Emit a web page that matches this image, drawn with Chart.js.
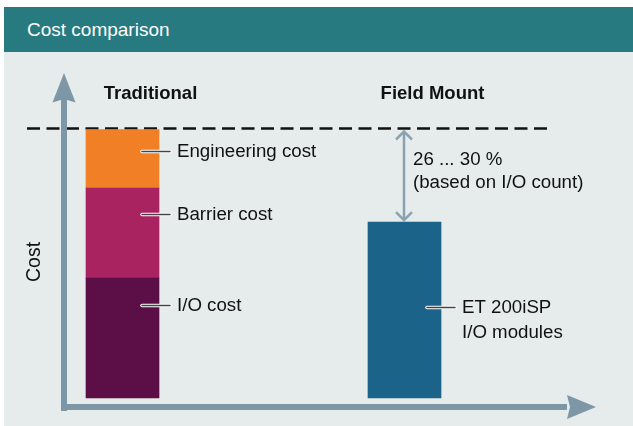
<!DOCTYPE html>
<html>
<head>
<meta charset="utf-8">
<script src="https://cdn.jsdelivr.net/npm/chart.js@4.4.1/dist/chart.umd.min.js"></script>
<style>
  body { margin: 0; background: #fff; }
  #wrap { position: relative; width: 633px; height: 426px; font-family: "Liberation Sans", Arial, sans-serif; }
  #head { position: absolute; left: 4px; top: 7px; width: 629px; height: 45px; background: #277a80; color: #fff;
          font-size: 19px; line-height: 45px; box-sizing: border-box; padding-left: 23px; }
  #body { position: absolute; left: 4px; top: 52px; width: 629px; height: 374px; background: #e6ebeb; }
  canvas { position: absolute; left: 0; top: 0; }
</style>
</head>
<body>
<div id="wrap">
  <div id="head">Cost comparison</div>
  <div id="body"></div>
  <canvas id="chart" width="633" height="426"></canvas>
</div>
<script>
// данные (в % от традиционной стоимости)
const categories = ['Traditional', 'Field Mount'];
const ioCost = [44.7, null];
const barrierCost = [33.5, null];
const engineeringCost = [21.8, null];
const et200isp = [null, 65.5];
const segmentNames = ['I/O cost', 'Barrier cost', 'Engineering cost', 'ET 200iSP\nI/O modules'];
const labelAt = [34.6, 68.5, 92, 33.9]; // где стоит выноска
const savingText = ['26 ... 30 %', '(based on I/O count)'];
const axisTitle = 'Cost';

const FONT = '"Liberation Sans", Arial, sans-serif';
const AXIS_COLOR = '#7e97a6';

const deco = {
  id: 'deco',
  beforeDatasetsDraw(chart) {
    const { ctx, chartArea: a, scales: { y } } = chart;
    const total = ioCost[0] + barrierCost[0] + engineeringCost[0];
    const yTop = y.getPixelForValue(total) - 1;
    const ax = a.left - 58.5;
    const ay = y.getPixelForValue(0) + 9;

    ctx.save();
    // пунктир на уровне традиционной стоимости
    ctx.strokeStyle = '#111';
    ctx.lineWidth = 2.5;
    ctx.setLineDash([13, 6.5]);
    ctx.beginPath();
    ctx.moveTo(27, yTop);
    ctx.lineTo(547, yTop);
    ctx.stroke();
    ctx.setLineDash([]);

    // оси со стрелками
    ctx.fillStyle = AXIS_COLOR;
    ctx.fillRect(ax - 3, 99, 6, ay + 4 - 99);
    ctx.fillRect(ax - 3, ay - 3, 570 - ax, 6);
    ctx.beginPath();
    ctx.moveTo(ax, 73);
    ctx.lineTo(ax - 11.5, 102.5);
    ctx.lineTo(ax, 99);
    ctx.lineTo(ax + 11.5, 102.5);
    ctx.closePath();
    ctx.fill();
    ctx.beginPath();
    ctx.moveTo(596, ay);
    ctx.lineTo(567, ay - 12);
    ctx.lineTo(570, ay);
    ctx.lineTo(567, ay + 12);
    ctx.closePath();
    ctx.fill();

    // подпись оси
    ctx.fillStyle = '#111';
    ctx.font = '19.5px ' + FONT;
    ctx.textAlign = 'center';
    ctx.textBaseline = 'middle';
    ctx.translate(35, 262);
    ctx.rotate(-Math.PI / 2);
    ctx.fillText(axisTitle, 0, 0);
    ctx.restore();
  },
  afterDatasetsDraw(chart) {
    const { ctx, scales: { x, y } } = chart;
    ctx.save();
    ctx.font = 'bold 18.5px ' + FONT;
    ctx.fillStyle = '#111';
    ctx.textAlign = 'center';
    ctx.textBaseline = 'middle';
    categories.forEach((c, i) => ctx.fillText(c, x.getPixelForValue(i) + 28, 94));

    // выноски
    ctx.font = '18.7px ' + FONT;
    ctx.textAlign = 'left';
    chart.data.datasets.forEach((ds, di) => {
      const idx = ds.data.findIndex(v => v != null);
      const bar = chart.getDatasetMeta(di).data[idx];
      const right = bar.x + bar.width / 2;
      const gap = idx === 0 ? 0 : 3;
      const ly = Math.round(y.getPixelForValue(labelAt[di])) + 0.5;
      ctx.lineCap = 'round';
      ctx.strokeStyle = '#fff';
      ctx.lineWidth = 3.5;
      ctx.beginPath(); ctx.moveTo(right - 17 + gap, ly); ctx.lineTo(right + 11 + gap, ly); ctx.stroke();
      ctx.strokeStyle = '#444';
      ctx.lineWidth = 1.5;
      ctx.beginPath(); ctx.moveTo(right - 17 + gap, ly); ctx.lineTo(right + 11 + gap, ly); ctx.stroke();
      segmentNames[di].split('\n').forEach((t, k) => ctx.fillText(t, right + 18 + gap, ly + k * 25));
    });

    // двойная стрелка экономии
    const total = ioCost[0] + barrierCost[0] + engineeringCost[0];
    const y1 = y.getPixelForValue(total) + 1;
    const y2 = y.getPixelForValue(et200isp[1]) - 1;
    const sx = x.getPixelForValue(1) - 0.5;
    ctx.strokeStyle = '#8aa2b1';
    ctx.lineWidth = 2.5;
    ctx.lineCap = 'butt';
    ctx.beginPath();
    ctx.moveTo(sx, y1); ctx.lineTo(sx, y2);
    ctx.moveTo(sx - 8, y1 + 9); ctx.lineTo(sx, y1 + 1); ctx.lineTo(sx + 8, y1 + 9);
    ctx.moveTo(sx - 8, y2 - 9); ctx.lineTo(sx, y2 - 1); ctx.lineTo(sx + 8, y2 - 9);
    ctx.stroke();
    ctx.fillStyle = '#111';
    savingText.forEach((t, k) => ctx.fillText(t, sx + 9, y1 + 29 + k * 23));
    ctx.restore();
  }
};

new Chart(document.getElementById('chart').getContext('2d'), {
  type: 'bar',
  data: {
    labels: categories,
    datasets: [
      { label: segmentNames[0], data: ioCost, backgroundColor: '#5c0e46' },
      { label: segmentNames[1], data: barrierCost, backgroundColor: '#a8235f' },
      { label: segmentNames[2], data: engineeringCost, backgroundColor: '#f07f26' },
      { label: segmentNames[3], data: et200isp, backgroundColor: '#1b6388' }
    ].map(d => Object.assign(d, { barThickness: 73, clip: false, borderWidth: 0 }))
  },
  options: {
    responsive: false,
    animation: false,
    layout: { padding: { left: 122.5, right: 228.5, top: 129.5, bottom: 28 } },
    plugins: { legend: { display: false }, tooltip: { enabled: false } },
    scales: {
      x: { stacked: true, offset: false, display: false },
      y: { stacked: true, min: 0, max: 100, display: false }
    }
  },
  plugins: [deco]
});
</script>
</body>
</html>
